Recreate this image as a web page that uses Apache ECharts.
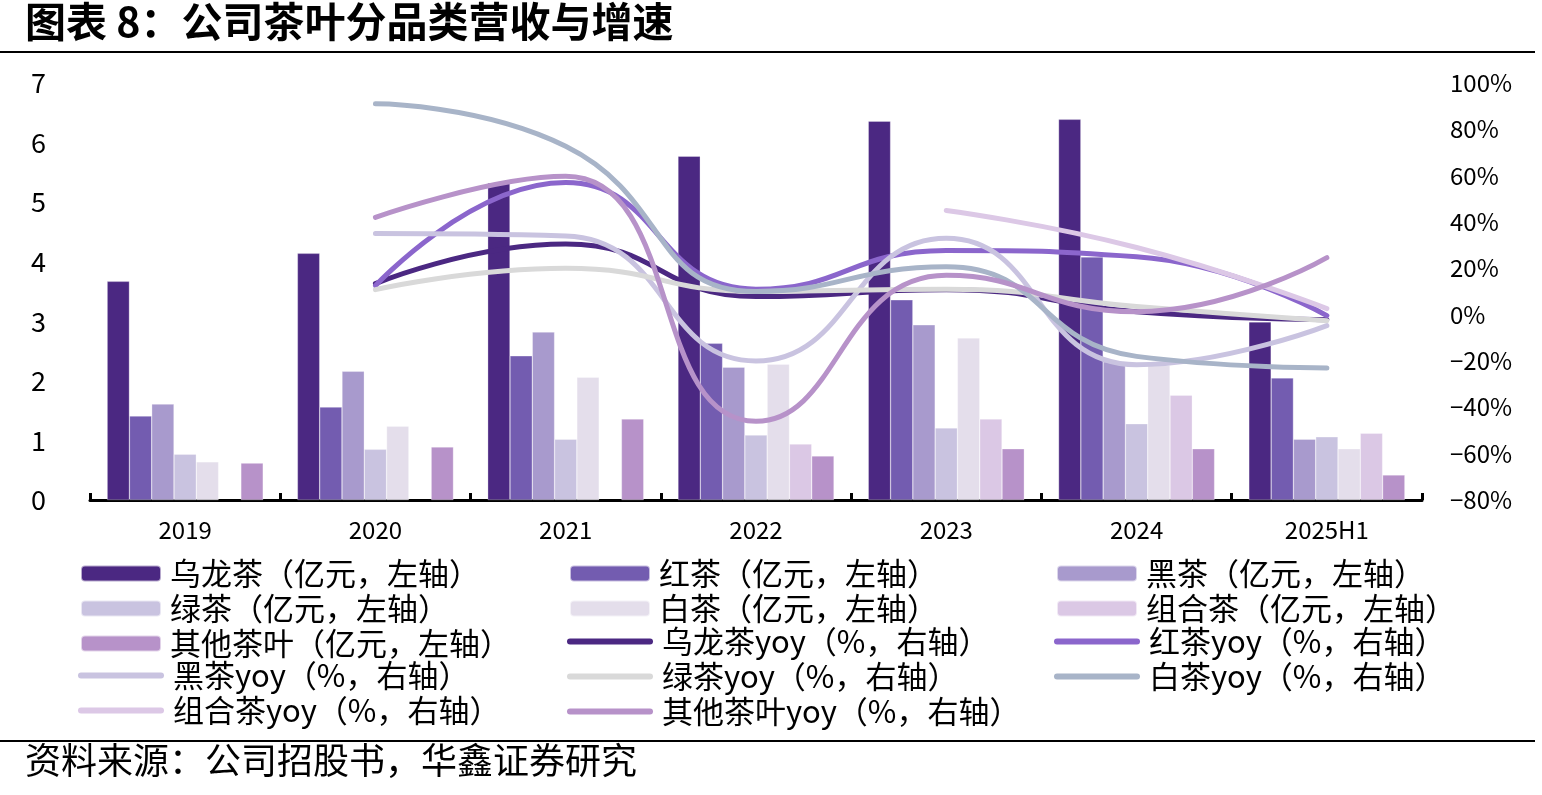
<!DOCTYPE html>
<html>
<head>
<meta charset="utf-8">
<script src="https://cdn.jsdelivr.net/npm/echarts@6/dist/echarts.min.js"></script>
<style>
  html, body { margin: 0; padding: 0; background: #fff; }
  #chart { width: 1542px; height: 795px; }
</style>
</head>
<body>
<div id="chart"></div>
<script>
// 年份
const categories = ['2019', '2020', '2021', '2022', '2023', '2024', '2025H1']

// 营收（亿元，左轴）
const oolong = [3.67, 4.14, 5.32, 5.77, 6.36, 6.39, 2.99]
const redTea = [1.41, 1.56, 2.42, 2.63, 3.36, 4.08, 2.05]
const blackTea = [1.61, 2.16, 2.82, 2.23, 2.94, 2.32, 1.02]
const greenTea = [0.77, 0.85, 1.02, 1.09, 1.21, 1.28, 1.06]
const whiteTea = [0.64, 1.24, 2.06, 2.28, 2.72, 2.26, 0.86]
const comboTea = [null, null, null, 0.94, 1.36, 1.76, 1.12]
const otherTea = [0.62, 0.89, 1.36, 0.74, 0.86, 0.86, 0.42]

// 增速（%，右轴）
const oolongYoy = [null, 13.4, 30.5, 7.8, 10.8, 1.3, -2.2]
const redYoy = [null, 12.5, 57, 11, 27.7, 25, -0.4]
const blackYoy = [null, 35, 34, -20, 33, -21.6, -4.7]
const greenYoy = [null, 10.8, 20, 10, 11, 3.5, -2.6]
const whiteYoy = [null, 91, 72.7, 10, 20.7, -18, -23]
const comboYoy = [null, null, null, null, 45, 29, 2.6]
const otherYoy = [null, 42, 59.7, -46, 17, 1.3, 24.6]

const leftTicks = { min: 0, max: 7, interval: 1 }
const rightTicks = { min: -80, max: 100, interval: 20 }

const font = 'Noto Sans CJK SC'

const barSeries = [
  ['乌龙茶（亿元，左轴）', oolong, '#4B2882'],
  ['红茶（亿元，左轴）', redTea, '#735CB0'],
  ['黑茶（亿元，左轴）', blackTea, '#A89ACD'],
  ['绿茶（亿元，左轴）', greenTea, '#C9C3E0'],
  ['白茶（亿元，左轴）', whiteTea, '#E4DEEB'],
  ['组合茶（亿元，左轴）', comboTea, '#DBC8E5'],
  ['其他茶叶（亿元，左轴）', otherTea, '#B792C9']
].map(([name, data, color]) => ({
  name,
  type: 'bar',
  yAxisIndex: 0,
  data,
  barGap: 0,
  barCategoryGap: '18%',
  itemStyle: { color, borderColor: 'rgba(255,255,255,0.6)', borderWidth: 0.5 }
}))

const lineSeries = [
  ['乌龙茶yoy（%，右轴）', oolongYoy, '#4B2882'],
  ['红茶yoy（%，右轴）', redYoy, '#8B66CC'],
  ['黑茶yoy（%，右轴）', blackYoy, '#C9C3E0'],
  ['绿茶yoy（%，右轴）', greenYoy, '#D9D9D9'],
  ['白茶yoy（%，右轴）', whiteYoy, '#A8B4C8'],
  ['组合茶yoy（%，右轴）', comboYoy, '#DCC8E6'],
  ['其他茶叶yoy（%，右轴）', otherYoy, '#B792C9']
].map(([name, data, color]) => ({
  name,
  type: 'line',
  yAxisIndex: 1,
  data,
  smooth: true,
  symbol: 'none',
  itemStyle: { color },
  lineStyle: { width: 5, color, cap: 'round' }
}))

// 图例：三列，柱形与折线分开放，行距34
const rowH = 34
const legendTop = 553
const legendText = { fontSize: 31, color: '#000', lineHeight: 30, fontFamily: font, padding: [0, 0, 0, 4] }
const lineIcon = 'path://M3,0 L83,0 A3,3 0 0 1 83,6 L3,6 A3,3 0 0 1 3,0 Z'

const legendGroups = [
  { left: 75, row: 0, bar: true, data: ['乌龙茶（亿元，左轴）', '绿茶（亿元，左轴）', '其他茶叶（亿元，左轴）'] },
  { left: 73, row: 3, bar: false, data: ['黑茶yoy（%，右轴）', '组合茶yoy（%，右轴）'] },
  { left: 564, row: 0, bar: true, data: ['红茶（亿元，左轴）', '白茶（亿元，左轴）'] },
  { left: 562, row: 2, bar: false, data: ['乌龙茶yoy（%，右轴）', '绿茶yoy（%，右轴）', '其他茶叶yoy（%，右轴）'] },
  { left: 1051, row: 0, bar: true, data: ['黑茶（亿元，左轴）', '组合茶（亿元，左轴）'] },
  { left: 1049, row: 2, bar: false, data: ['红茶yoy（%，右轴）', '白茶yoy（%，右轴）'] }
]

const chart = echarts.init(document.getElementById('chart'))

chart.setOption({
  animation: false,
  backgroundColor: '#fff',
  textStyle: { fontFamily: font },
  grid: { left: 90, right: 120, top: 83, bottom: 295, containLabel: false },
  graphic: [
    {
      type: 'text', left: 25, top: 1,
      style: { text: '图表 8：公司茶叶分品类营收与增速', font: `bold 41px "${font}"`, fill: '#000' }
    },
    { type: 'rect', shape: { x: 0, y: 51, width: 1535, height: 2 }, style: { fill: '#000' } },
    { type: 'rect', shape: { x: 0, y: 740, width: 1535, height: 2 }, style: { fill: '#000' } },
    {
      type: 'text', left: 25, top: 742,
      style: { text: '资料来源：公司招股书，华鑫证券研究', font: `36px "${font}"`, fill: '#000' }
    }
  ],
  legend: legendGroups.map(g => ({
    orient: 'vertical',
    left: g.left,
    top: legendTop + g.row * rowH,
    data: g.bar ? g.data : g.data.map(name => ({ name, icon: lineIcon })),
    itemWidth: g.bar ? 80 : 86,
    itemHeight: g.bar ? 16 : 6,
    itemGap: rowH - 30,
    textStyle: legendText
  })),
  xAxis: {
    type: 'category',
    data: categories,
    axisLine: { lineStyle: { color: '#000', width: 3 } },
    axisTick: { show: true, inside: true, length: 7, lineStyle: { color: '#000', width: 3 } },
    axisLabel: { color: '#000', fontSize: 24, margin: 18, fontFamily: font }
  },
  yAxis: [
    {
      type: 'value',
      ...leftTicks,
      axisLine: { show: false },
      axisTick: { show: false },
      splitLine: { show: false },
      axisLabel: { color: '#000', fontSize: 27, margin: 44, fontFamily: font }
    },
    {
      type: 'value',
      ...rightTicks,
      axisLine: { show: false },
      axisTick: { show: false },
      splitLine: { show: false },
      axisLabel: {
        color: '#000', fontSize: 24, margin: 28, fontFamily: font,
        formatter: v => (v < 0 ? '\u2212' + Math.abs(v) : v) + '%'
      }
    }
  ],
  series: [...barSeries, ...lineSeries]
})
</script>
</body>
</html>
